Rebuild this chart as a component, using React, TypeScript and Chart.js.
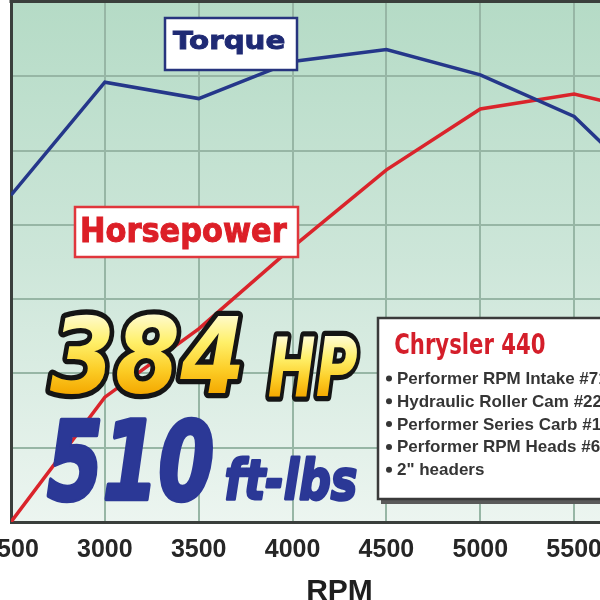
import React, { useEffect, useRef } from "react";
import { Chart, registerables } from "chart.js";

Chart.register(...registerables);

// ---- data ----
const rpm = [2500, 3000, 3500, 4000, 4500, 5000, 5500, 6000];
const torque = [410, 486, 475, 500, 508, 491, 463, 402];
const horsepower = [100, 184, 230, 285, 337, 378, 388, 373];
const rpmTicks = [2500, 3000, 3500, 4000, 4500, 5000, 5500, 6000];
const seriesNames = ["Torque", "Horsepower"];
const peakHp = "384";
const hpUnit = "HP";
const peakTorque = "510";
const torqueUnit = "ft-lbs";
const axisTitle = "RPM";
const engineName = "Chrysler 440";
const parts = [
  "Performer RPM Intake #7193",
  "Hydraulic Roller Cam #2295",
  "Performer Series Carb #1406",
  "Performer RPM Heads #60919",
  "2\" headers",
];

// ---- layout constants ----
const CANVAS_W = 760;
const CANVAS_H = 620;
const OFFSET_X = 50; // canvas is shifted left by this many pixels
const GRID = "#97b6a5";
const DARK = "#3a3f3c";

type Box = { x0: number; y0: number; x1: number; y1: number };

function fitText(
  ctx: CanvasRenderingContext2D,
  text: string,
  font: string,
  box: Box,
  paint: (c: CanvasRenderingContext2D, m: TextMetrics, sx: number, sy: number) => void
) {
  ctx.save();
  ctx.font = font;
  ctx.textAlign = "left";
  ctx.textBaseline = "alphabetic";
  const m = ctx.measureText(text);
  const w = m.actualBoundingBoxLeft + m.actualBoundingBoxRight;
  const h = m.actualBoundingBoxAscent + m.actualBoundingBoxDescent;
  const sx = (box.x1 - box.x0) / w;
  const sy = (box.y1 - box.y0) / h;
  ctx.translate(box.x0 + OFFSET_X, box.y0);
  ctx.scale(sx, sy);
  ctx.translate(m.actualBoundingBoxLeft, m.actualBoundingBoxAscent);
  paint(ctx, m, sx, sy);
  ctx.restore();
}

const chartBackground = {
  id: "chartBackground",
  beforeDraw(chart: any) {
    const { ctx, chartArea: a } = chart;
    ctx.save();
    const g = ctx.createLinearGradient(0, a.top, 0, a.bottom);
    g.addColorStop(0, "#b5dbc6");
    g.addColorStop(0.5, "#cde6d9");
    g.addColorStop(1, "#ecf5f0");
    ctx.fillStyle = g;
    ctx.fillRect(a.left, a.top, a.right - a.left, a.bottom - a.top);
    ctx.restore();
  },
  afterDraw(chart: any) {
    const { ctx, chartArea: a } = chart;
    ctx.save();
    ctx.fillStyle = DARK;
    ctx.fillRect(a.left - 1.5, 0, a.right - a.left + 1.5, 3);
    ctx.restore();
  },
};

function rectBox(ctx: CanvasRenderingContext2D, b: Box, stroke: string, lw: number) {
  ctx.save();
  ctx.fillStyle = "#ffffff";
  ctx.fillRect(b.x0 + OFFSET_X, b.y0, b.x1 - b.x0, b.y1 - b.y0);
  ctx.strokeStyle = stroke;
  ctx.lineWidth = lw;
  ctx.strokeRect(b.x0 + OFFSET_X, b.y0, b.x1 - b.x0, b.y1 - b.y0);
  ctx.restore();
}

const annotations = {
  id: "annotations",
  afterDraw(chart: any) {
    const ctx: CanvasRenderingContext2D = chart.ctx;

    // Torque label
    rectBox(ctx, { x0: 165, y0: 18, x1: 297, y1: 70 }, "#27347e", 2.5);
    fitText(ctx, seriesNames[0], 'bold 30px "DejaVu Sans", sans-serif', { x0: 173, y0: 31, x1: 284, y1: 54 }, (c, m, sx, sy) => {
      c.fillStyle = "#1f2a74";
      c.strokeStyle = "#1f2a74";
      c.lineWidth = 1 / ((sx + sy) / 2);
      c.fillText(seriesNames[0], 0, 0);
      c.strokeText(seriesNames[0], 0, 0);
    });

    // Horsepower label
    rectBox(ctx, { x0: 75, y0: 207, x1: 298, y1: 257 }, "#e0363c", 2.5);
    fitText(ctx, seriesNames[1], 'bold 30px "DejaVu Sans", sans-serif', { x0: 82, y0: 217, x1: 287, y1: 249 }, (c, m, sx, sy) => {
      c.fillStyle = "#dc1f27";
      c.strokeStyle = "#dc1f27";
      c.lineWidth = 1 / ((sx + sy) / 2);
      c.fillText(seriesNames[1], 0, 0);
      c.strokeText(seriesNames[1], 0, 0);
    });

    // 384 HP (yellow, black outline)
    const yellow = (text: string, box: Box, lw: number) =>
      fitText(ctx, text, 'italic bold 100px "DejaVu Sans", sans-serif', box, (c, m, sx, sy) => {
        const g = c.createLinearGradient(0, -m.actualBoundingBoxAscent, 0, m.actualBoundingBoxDescent);
        g.addColorStop(0, "#fffbd0");
        g.addColorStop(0.35, "#fff06a");
        g.addColorStop(0.7, "#fccd26");
        g.addColorStop(1, "#f4a800");
        c.lineJoin = "round";
        c.strokeStyle = "#151515";
        c.lineWidth = lw / ((sx + sy) / 2);
        c.strokeText(text, 0, 0);
        c.fillStyle = g;
        c.fillText(text, 0, 0);
      });
    yellow(peakHp, { x0: 50, y0: 314, x1: 240, y1: 394 }, 10);
    yellow(hpUnit, { x0: 269, y0: 337, x1: 357, y1: 397 }, 9);

    // 510 ft-lbs (blue, heavy)
    const blue = (text: string, box: Box, font: string, lw: number) =>
      fitText(ctx, text, font, box, (c, m, sx, sy) => {
        c.fillStyle = "#2b3896";
        c.strokeStyle = "#2b3896";
        c.lineJoin = "round";
        c.lineWidth = lw / ((sx + sy) / 2);
        c.strokeText(text, 0, 0);
        c.fillText(text, 0, 0);
      });
    blue(peakTorque, { x0: 48, y0: 417, x1: 212, y1: 500 }, 'italic bold 100px "DejaVu Sans", sans-serif', 4);
    blue(torqueUnit, { x0: 226, y0: 457, x1: 356, y1: 500 }, 'italic bold 60px "DejaVu Sans", sans-serif', 2.5);

    // info box
    ctx.save();
    ctx.fillStyle = "#5a5a5a";
    ctx.fillRect(378 + 3 + OFFSET_X, 318 + 4, 300, 182);
    ctx.restore();
    rectBox(ctx, { x0: 378, y0: 318, x1: 678, y1: 499 }, "#3a3a3a", 2.5);
    fitText(ctx, engineName, 'bold 30px "Liberation Sans Narrow", "DejaVu Sans Condensed", sans-serif', { x0: 395, y0: 332, x1: 545, y1: 360 }, (c) => {
      c.fillStyle = "#d41e2a";
      c.fillText(engineName, 0, 0);
    });
    ctx.save();
    ctx.fillStyle = "#353535";
    ctx.textBaseline = "alphabetic";
    ctx.textAlign = "left";
    parts.forEach((p, i) => {
      const base = 384 + i * 22.8;
      ctx.beginPath();
      ctx.arc(389 + OFFSET_X, base - 5.5, 3, 0, Math.PI * 2);
      ctx.fill();
      ctx.font = 'bold 17px "Liberation Sans", Arial, sans-serif';
      ctx.fillText(p, 397 + OFFSET_X, base);
    });
    ctx.restore();
  },
};

export default function App() {
  const ref = useRef<HTMLCanvasElement | null>(null);

  useEffect(() => {
    if (!ref.current) return;
    const tickFont = { family: '"Liberation Sans", Arial, sans-serif', size: 25, weight: "bold" as const };
    const chart = new Chart(ref.current, {
      type: "line",
      data: {
        datasets: [
          {
            label: seriesNames[0],
            data: rpm.map((r, i) => ({ x: r, y: torque[i] })),
            yAxisID: "yTq",
            borderColor: "#25378a",
            borderWidth: 3.5,
            pointRadius: 0,
            tension: 0,
          },
          {
            label: seriesNames[1],
            data: rpm.map((r, i) => ({ x: r, y: horsepower[i] })),
            yAxisID: "yHp",
            borderColor: "#da242b",
            borderWidth: 3.5,
            pointRadius: 0,
            tension: 0,
          },
        ],
      },
      options: {
        responsive: false,
        animation: false,
        devicePixelRatio: 1,
        layout: { padding: { left: 61, right: 42, top: 2, bottom: 0 } },
        plugins: { legend: { display: false }, tooltip: { enabled: false } },
        scales: {
          x: {
            type: "linear",
            min: rpmTicks[0],
            max: rpmTicks[rpmTicks.length - 1],
            afterBuildTicks: (s: any) => {
              s.ticks = rpmTicks.map((v) => ({ value: v }));
            },
            afterFit: (s: any) => {
              s.height = 98;
            },
            ticks: {
              font: tickFont,
              color: "#262626",
              padding: 13,
              autoSkip: false,
              maxRotation: 0,
              callback: (v: any) => String(v),
            },
            grid: { color: GRID, lineWidth: 2, drawTicks: false },
            border: { color: DARK, width: 3 },
            title: {
              display: true,
              text: axisTitle,
              color: "#1e1e1e",
              font: { family: '"Liberation Sans", Arial, sans-serif', size: 30, weight: "bold" },
              padding: { top: 0, bottom: 10 },
            },
          },
          yHp: {
            position: "left",
            min: 100,
            max: 450,
            ticks: { display: false, stepSize: 50 },
            grid: { color: GRID, lineWidth: 2, drawTicks: false },
            border: { color: DARK, width: 3 },
            afterFit: (s: any) => {
              s.width = 0;
            },
          },
          yTq: {
            position: "right",
            min: 190,
            max: 540,
            display: false,
          },
        },
      } as any,
      plugins: [chartBackground, annotations],
    });
    return () => chart.destroy();
  }, []);

  return (
    <div style={{ position: "fixed", left: 0, top: 0, width: 600, height: 600, overflow: "hidden", background: "#ffffff" }}>
      <canvas
        ref={ref}
        width={CANVAS_W}
        height={CANVAS_H}
        style={{ position: "absolute", left: -OFFSET_X, top: 0, width: CANVAS_W, height: CANVAS_H }}
      />
    </div>
  );
}
